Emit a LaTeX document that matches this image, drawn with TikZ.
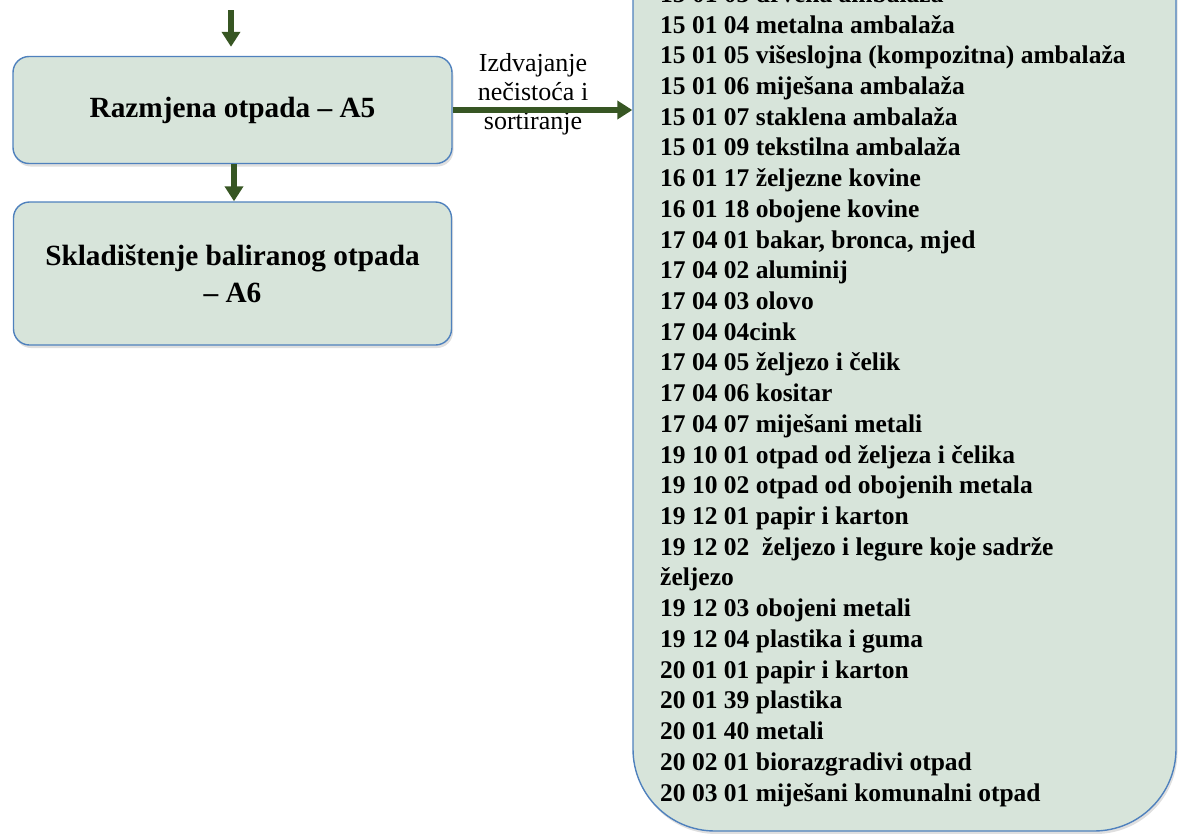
\documentclass[tikz,border=0pt]{standalone}
\usepackage{fontspec}
\setmainfont{Liberation Serif}
\usetikzlibrary{arrows.meta,shadows}
\definecolor{boxfill}{RGB}{215,228,218}
\definecolor{boxline}{RGB}{79,129,189}
\definecolor{flowgreen}{RGB}{55,86,35}

\begin{document}
\begin{tikzpicture}[x=1pt, y=-1pt,
    box/.style={draw=boxline, line width=1.4pt, fill=boxfill, rounded corners=16pt,
      drop shadow={opacity=0.25, shadow xshift=1.5pt, shadow yshift=-3pt},
      font=\fontsize{29.3}{37}\selectfont\bfseries, align=center, inner sep=0pt},
    code/.style={font=\fontsize{25.5}{30.7}\selectfont\bfseries, anchor=base west, inner sep=0pt},
    flow/.style={-{Triangle[width=18pt,length=15pt]}, draw=flowgreen, line width=6pt}]
    \useasboundingbox (0,0) rectangle (1181,833);
    \begin{scope}
    \clip (0,0) rectangle (1181,833);
    \node[box, minimum width=543pt, minimum height=940pt, rounded corners=82pt] (codes) at (904.5,361) {};
    \foreach \t [count=\i from 0] in {
        {15 01 03 drvena ambalaža},
        {15 01 04 metalna ambalaža},
        {15 01 05 višeslojna (kompozitna) ambalaža},
        {15 01 06 miješana ambalaža},
        {15 01 07 staklena ambalaža},
        {15 01 09 tekstilna ambalaža},
        {16 01 17 željezne kovine},
        {16 01 18 obojene kovine},
        {17 04 01 bakar, bronca, mjed},
        {17 04 02 aluminij},
        {17 04 03 olovo},
        {17 04 04cink},
        {17 04 05 željezo i čelik},
        {17 04 06 kositar},
        {17 04 07 miješani metali},
        {19 10 01 otpad od željeza i čelika},
        {19 10 02 otpad od obojenih metala},
        {19 12 01 papir i karton},
        {19 12 02 \ željezo i legure koje sadrže},
        {željezo},
        {19 12 03 obojeni metali},
        {19 12 04 plastika i guma},
        {20 01 01 papir i karton},
        {20 01 39 plastika},
        {20 01 40 metali},
        {20 02 01 biorazgradivi otpad},
        {20 03 01 miješani komunalni otpad}}
        \node[code] (c\i) at (660,{2.3+30.72*\i}) {\t};
    \end{scope}
    \node[box, minimum width=439pt, minimum height=107pt] (razmjena) at (232.5,110) {Razmjena otpada -- A5};
    \node[box, minimum width=438pt, minimum height=143pt] (skladiste) at (232.5,273.5) {Skladištenje baliranog otpada\\-- A6};
    \node[font=\fontsize{26}{29}\selectfont, align=center, inner sep=0pt] (izdvajanje) at (533,94) {Izdvajanje\\nečistoća i\\sortiranje};
    \coordinate (ulaz) at (231,10);
    \draw[flow, shorten >=9pt] (ulaz) -- (ulaz |- razmjena.north);
    \draw[flow] ([xshift=1.5pt]razmjena.south) -- ([xshift=1.5pt]skladiste.north);
    \draw[flow] (razmjena.east) -- (razmjena.east -| codes.west);
\end{tikzpicture}
\end{document}
